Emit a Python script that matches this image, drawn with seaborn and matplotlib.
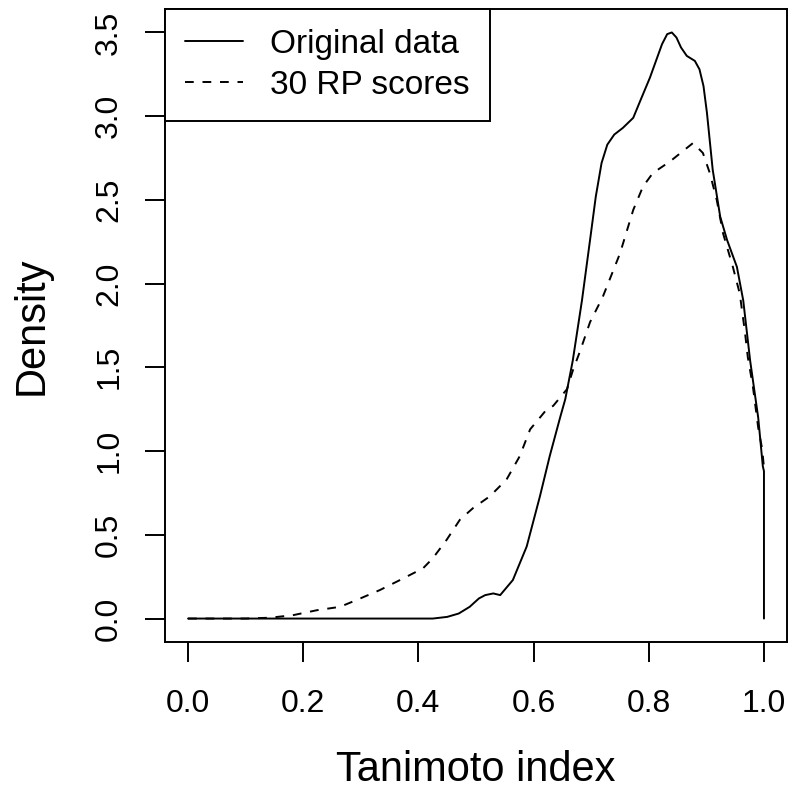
import matplotlib
matplotlib.use('Agg')
import matplotlib.pyplot as plt
import pandas as pd
import seaborn as sns

# density curves
orig_x = [0.0, 0.10, 0.20, 0.30, 0.40, 0.425, 0.45, 0.47, 0.489, 0.505, 0.516, 0.53, 0.542,
          0.564, 0.588, 0.611, 0.628, 0.646, 0.655, 0.668, 0.684, 0.698, 0.708, 0.718, 0.728,
          0.740, 0.755, 0.773, 0.785, 0.802, 0.823, 0.832, 0.840, 0.848, 0.856, 0.866, 0.880,
          0.888, 0.895, 0.901, 0.911, 0.924, 0.936, 0.953, 0.964, 0.972, 0.976, 0.990, 0.998,
          1.0, 1.0]
orig_y = [0.0, 0.0, 0.0, 0.0, 0.0, 0.0, 0.01, 0.03, 0.07, 0.12, 0.14, 0.15, 0.14,
          0.23, 0.43, 0.73, 0.97, 1.20, 1.31, 1.54, 1.90, 2.26, 2.52, 2.72, 2.83,
          2.89, 2.93, 2.99, 3.09, 3.23, 3.43, 3.49, 3.50, 3.47, 3.41, 3.36, 3.33,
          3.28, 3.18, 3.02, 2.68, 2.40, 2.26, 2.10, 1.90, 1.66, 1.54, 1.20, 0.91,
          0.88, 0.0]

rp_x = [0.0, 0.10, 0.142, 0.182, 0.224, 0.264, 0.299, 0.333, 0.368, 0.408, 0.425, 0.449,
        0.472, 0.495, 0.524, 0.553, 0.576, 0.594, 0.611, 0.623, 0.634, 0.658, 0.668, 0.681,
        0.698, 0.720, 0.750, 0.773, 0.790, 0.807, 0.837, 0.866, 0.877, 0.894, 0.906, 0.918,
        0.929, 0.946, 0.958, 0.967, 0.972, 0.981, 0.990, 0.997, 1.0]
rp_y = [0.0, 0.0, 0.005, 0.02, 0.05, 0.07, 0.12, 0.17, 0.23, 0.30, 0.36, 0.47,
        0.59, 0.66, 0.73, 0.83, 0.97, 1.13, 1.20, 1.25, 1.27, 1.37, 1.48, 1.60,
        1.77, 1.92, 2.18, 2.44, 2.58, 2.66, 2.73, 2.81, 2.84, 2.78, 2.66, 2.50,
        2.30, 2.10, 1.94, 1.71, 1.56, 1.38, 1.14, 1.01, 0.90]

x_ticks = [0.0, 0.2, 0.4, 0.6, 0.8, 1.0]
y_ticks = [0.0, 0.5, 1.0, 1.5, 2.0, 2.5, 3.0, 3.5]

sns.set_theme(style='white')
plt.rcParams['font.family'] = ['Liberation Sans', 'DejaVu Sans']
plt.rcParams['axes.linewidth'] = 1.4

df_orig = pd.DataFrame({'x': orig_x, 'y': orig_y})
df_rp = pd.DataFrame({'x': rp_x, 'y': rp_y})

fig = plt.figure(figsize=(7.92, 7.96), dpi=100)
ax = fig.add_axes([165 / 792, 1 - 642 / 796, 622 / 792, 633 / 796])

sns.lineplot(data=df_orig, x='x', y='y', sort=False, estimator=None, color='black',
             linewidth=1.4, label='Original data', ax=ax)
sns.lineplot(data=df_rp, x='x', y='y', sort=False, estimator=None, color='black',
             linewidth=1.4, label='30 RP scores', ax=ax)
ax.lines[1].set_dashes((4.5, 4.5))

ax.set_xlim(-0.04, 1.04)
ax.set_ylim(-0.14, 3.64)
ax.set_xticks(x_ticks)
ax.set_yticks(y_ticks)
ax.set_xticklabels([f'{v:.1f}' for v in x_ticks])
ax.set_yticklabels([f'{v:.1f}' for v in y_ticks])
ax.tick_params(axis='both', direction='out', length=14.4, width=1.4, color='black',
               labelsize=23, labelcolor='black', bottom=True, left=True)
ax.tick_params(axis='x', pad=19.5)
ax.tick_params(axis='y', pad=15, labelrotation=90)
for lbl in ax.get_yticklabels():
    lbl.set_va('center')

ax.set_xlabel('Tanimoto index', fontsize=30, color='black')
ax.set_ylabel('Density', fontsize=30, color='black')
ax.xaxis.set_label_coords(0.5, -(750 - 642) / 633)
ax.yaxis.set_label_coords(-(165 - 52) / 622, 0.5)
for s in ax.spines.values():
    s.set_color('black')

leg = ax.legend(loc='upper left', bbox_to_anchor=(0, 1), borderaxespad=0, fontsize=24,
                frameon=True, fancybox=False, edgecolor='black', framealpha=1,
                labelcolor='black', handlelength=1.75, handletextpad=0.8,
                labelspacing=0.3, borderpad=0.6)
leg.get_frame().set_linewidth(1.4)
leg.legend_handles[1].set_dashes((4.5, 4.5))

fig.savefig('out.png', dpi=100)
